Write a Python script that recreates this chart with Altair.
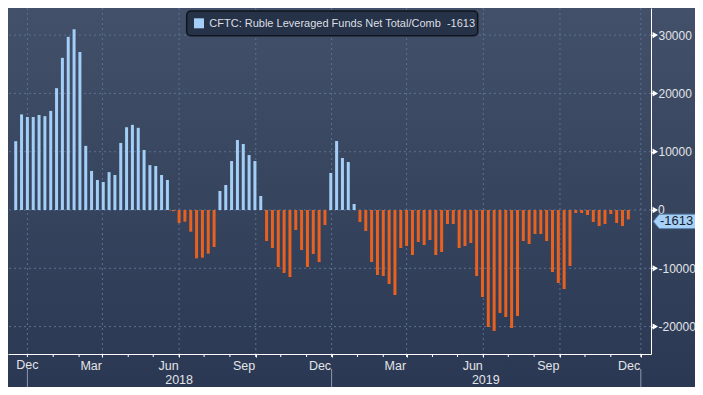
import altair as alt
import pandas as pd

# ---------------- data ----------------
start_date = "2017-11-17"
values = [11800, 16400, 15950, 15950, 16300, 16100, 17000, 20900, 26100, 29700,
          31000, 27100, 11000, 6700, 5150, 4800, 6500, 6000, 11500, 14200,
          14600, 14100, 10300, 7700, 7550, 6000, 5150, -200, -2230, -2000,
          -3720, -8290, -8170, -7490, -6350, 3260, 4290, 8400, 12000, 11320,
          9430, 8400, 2400, -5320, -6520, -9780, -10800, -11490, -3430, -6860,
          -9780, -7550, -8920, -2570, 6350, 11830, 8920, 8230, 1030, -2060,
          -3600, -8920, -11150, -11320, -12690, -14580, -6520, -6170, -7720, -5490,
          -6000, -5150, -7720, -7200, -2400, -2400, -6520, -6170, -5660, -11320,
          -14920, -20070, -20750, -17660, -18350, -20240, -18180, -5320, -5830, -4120,
          -4120, -5320, -10630, -12520, -13550, -9600, -510, -510, -860, -2060,
          -2740, -2400, -690, -2230, -2740, -1613]
last_value = -1613
series_name = "CFTC: Ruble Leveraged Funds Net Total/Comb"

y_grid = [-20000, -10000, 0, 10000, 20000, 30000]
y_ticks = [-20000, -15000, -10000, -5000, 0, 5000, 10000, 15000, 20000, 25000, 30000]
x_grid = ["2017-12-01T00:00:00", "2018-03-01T00:00:00", "2018-06-01T00:00:00",
          "2018-09-01T00:00:00", "2018-12-01T00:00:00", "2019-03-01T00:00:00",
          "2019-06-01T00:00:00", "2019-09-01T00:00:00", "2019-12-07T00:00:00"]
quarter_labels = [(2018, 3, 1), (2018, 6, 1), (2018, 9, 1), (2018, 12, 1),
                  (2019, 3, 1), (2019, 6, 1), (2019, 9, 1), (2019, 12, 7)]
first_label_date = ["2017-12-01T00:00:00"]
first_label_text = ["Dec"]
year_sep = ["2017-12-01T00:00:00", "2018-12-01T00:00:00", "2019-12-07T00:00:00"]
year_labels = ["2018", "2019"]
year_label_pos = ["2018-06-01T00:00:00", "2019-06-04T00:00:00"]
month_ticks = (["2017-12-01T00:00:00"]
               + ["2018-%02d-01T00:00:00" % m for m in range(1, 13)]
               + ["2019-%02d-01T00:00:00" % m for m in range(1, 12)]
               + ["2019-12-07T00:00:00"])

dates = pd.date_range(start_date, periods=len(values), freq="7D").strftime("%Y-%m-%dT%H:%M:%S")
df = pd.DataFrame({"date": dates, "value": values})
df["sign"] = ["pos" if v > 0 else "neg" for v in values]

# ---------------- style ----------------
W, H = 643, 346
PR, PB = 44, 33
BLUE = "#a3cff7"
ORANGE = "#e8611e"
GRID = "#5b7291"
TXT = "#e2e4e8"
FONT = "Liberation Sans"

xscale = alt.Scale(domain=[alt.DateTime(year=2017, month=11, date=13, hours=17, minutes=30),
                           alt.DateTime(year=2019, month=12, date=13, hours=5)])
yscale = alt.Scale(domain=[-24700, 34650], nice=False, zero=False)

one = pd.DataFrame({"a": [0]})

bg = alt.Chart(one).mark_rect(
    fill=alt.LinearGradient(gradient="linear",
                            stops=[alt.GradientStop(color="#425069", offset=0),
                                   alt.GradientStop(color="#2b3853", offset=1)],
                            x1=0, x2=0, y1=0, y2=1)
).encode(x=alt.value(0), x2=alt.value(W + PR), y=alt.value(0), y2=alt.value(H + PB))

hgrid = alt.Chart(pd.DataFrame({"v": y_grid})).mark_rule(
    color=GRID, strokeDash=[2, 3], strokeWidth=1
).encode(y=alt.Y("v:Q", scale=yscale))

vgrid = alt.Chart(pd.DataFrame({"d": x_grid})).mark_rule(
    color=GRID, strokeDash=[2, 3], strokeWidth=1
).encode(x=alt.X("d:T", scale=xscale))

bars = alt.Chart(df).mark_bar(size=3).encode(
    x=alt.X("date:T", scale=xscale,
            axis=alt.Axis(values=[alt.DateTime(year=y, month=m, date=d) for (y, m, d) in quarter_labels],
                          format="%b", title=None, grid=False, domainColor="#ffffff",
                          tickColor="#ffffff", tickSize=3, labelColor=TXT, labelFont=FONT,
                          labelFontSize=12.5, labelAlign="right", labelOffset=-1, labelPadding=2,
                          labelOverlap=False, labelFlush=False, labelBound=False, zindex=1)),
    y=alt.Y("value:Q", scale=yscale, stack=None,
            axis=alt.Axis(orient="right", values=y_ticks, title=None, grid=False,
                          labelExpr="datum.value % 10000 == 0 && datum.value != 0 ? '' + datum.value : ''",
                          domainColor="#ffffff", tickColor="#ffffff", tickSize=4,
                          labelColor=TXT, labelFont=FONT, labelFontSize=12, labelPadding=3,
                          labelOverlap=False, labelFlush=False, labelBound=False, zindex=1)),
    color=alt.Color("sign:N", scale=alt.Scale(domain=["pos", "neg"], range=[BLUE, ORANGE]), legend=None),
)

mticks = alt.Chart(pd.DataFrame({"d": month_ticks})).mark_rule(color="#ffffff", strokeWidth=1).encode(
    x=alt.X("d:T", scale=xscale), y=alt.value(H), y2=alt.value(H + 3))

first_lbl = alt.Chart(pd.DataFrame({"d": first_label_date, "t": first_label_text})).mark_text(
    color=TXT, font=FONT, fontSize=12.5, baseline="top", align="center"
).encode(x=alt.X("d:T", scale=xscale), y=alt.value(H + 5), text="t:N")

sep = alt.Chart(pd.DataFrame({"d": year_sep})).mark_rule(color="#8d99ad", strokeWidth=1).encode(
    x=alt.X("d:T", scale=xscale), y=alt.value(H + 15), y2=alt.value(H + PB))

years = alt.Chart(pd.DataFrame({"d": year_label_pos, "t": year_labels})).mark_text(
    color=TXT, font=FONT, fontSize=12.5, baseline="middle", align="center"
).encode(x=alt.X("d:T", scale=xscale), y=alt.value(H + 26), text="t:N")

tri = alt.Chart(pd.DataFrame({"v": y_grid})).mark_point(
    shape="triangle-right", filled=True, color="#ffffff", size=40, opacity=1
).encode(x=alt.value(W + 4.3), y=alt.Y("v:Q", scale=yscale))

zero_lbl = alt.Chart(pd.DataFrame({"v": [0], "t": ["0"]})).mark_text(
    color=TXT, font=FONT, fontSize=12, align="left", baseline="middle"
).encode(x=alt.value(W + 7), y=alt.Y("v:Q", scale=yscale), text="t:N")

tag = alt.Chart(pd.DataFrame({"v": [last_value]})).mark_point(
    shape="M-1,0L-0.8,-0.24L1,-0.24L1,0.24L-0.8,0.24Z", filled=True, size=3600,
    fill="#a5d0f7", stroke="#5f84ad", strokeWidth=1, opacity=1, yOffset=2
).encode(x=alt.value(W + 32.3), y=alt.Y("v:Q", scale=yscale))

tag_txt = alt.Chart(pd.DataFrame({"v": [last_value], "t": [str(last_value)]})).mark_text(
    color="#18212f", font=FONT, fontSize=13, align="left", baseline="middle", yOffset=2
).encode(x=alt.value(W + 9), y=alt.Y("v:Q", scale=yscale), text="t:N")

leg_box = alt.Chart(one).mark_rect(
    fill="#263247", stroke="#0e141d", strokeWidth=1.5, cornerRadius=4
).encode(x=alt.value(178.7), x2=alt.value(469.7), y=alt.value(3), y2=alt.value(27.7))

leg_sw = alt.Chart(one).mark_rect(fill=BLUE).encode(
    x=alt.value(186), x2=alt.value(196), y=alt.value(10.3), y2=alt.value(20.3))

leg_txt = alt.Chart(pd.DataFrame({"t": [series_name + "\u00a0\u00a0" + str(last_value)]})).mark_text(
    color="#dcdfe4", font=FONT, fontSize=11, align="left", baseline="middle"
).encode(x=alt.value(201.3), y=alt.value(15.6), text="t:N")

chart = alt.layer(
    bg, hgrid, vgrid, bars, mticks, first_lbl, sep, years, tri, zero_lbl, tag, tag_txt,
    leg_box, leg_sw, leg_txt
).properties(
    width=W, height=H,
    autosize=alt.AutoSizeParams(type="none"),
    padding={"left": 0, "top": 0, "right": PR, "bottom": PB},
).configure(background="#2e3c57").configure_view(stroke=None)

chart.save("out.html", embed_options={"renderer": "svg", "actions": False})
